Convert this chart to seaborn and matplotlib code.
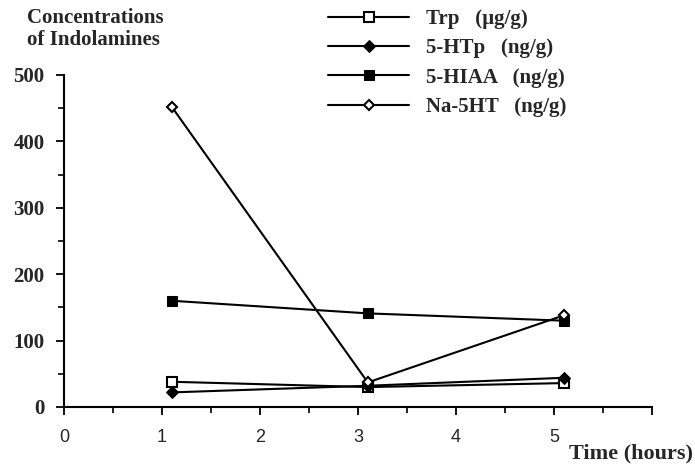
import numpy as np
import pandas as pd
import matplotlib
matplotlib.use("Agg")
import matplotlib.pyplot as plt
import seaborn as sns
from matplotlib.ticker import MultipleLocator

# ---- data ----
time_hours = [1.1, 3.1, 5.1]
trp = [38, 30, 36]
htp = [22, 32, 44]
hiaa = [160, 141, 130]
na5ht = [452, 37, 138]

series_labels = ["Trp   (\u00b5g/g)", "5-HTp   (ng/g)", "5-HIAA   (ng/g)", "Na-5HT   (ng/g)"]
x_ticks = [0, 1, 2, 3, 4, 5]
y_ticks = [0, 100, 200, 300, 400, 500]

sns.set_theme(style="white")
plt.rcParams["font.family"] = ["Liberation Serif", "DejaVu Serif"]

fig = plt.figure(figsize=(6.95, 4.68), dpi=100)
ax = fig.add_axes([64 / 695, 1 - 407 / 468, (652 - 64) / 695, (407 - 75) / 468])

styles = [
    dict(marker="s", markerfacecolor="white", markeredgecolor="black", markersize=6.5, markeredgewidth=1.5),
    dict(marker="D", markerfacecolor="black", markeredgecolor="black", markersize=6),
    dict(marker="s", markerfacecolor="black", markeredgecolor="black", markersize=6.5),
    dict(marker="D", markerfacecolor="white", markeredgecolor="black", markersize=5.5, markeredgewidth=1.5),
]
for vals, lab, st in zip([trp, htp, hiaa, na5ht], series_labels, styles):
    sns.lineplot(x=time_hours, y=vals, ax=ax, color="black", linewidth=1.5, label=lab, **st)

ax.set_xlim(0, 6)
ax.set_ylim(0, 500)
ax.set_yticks(y_ticks)
ax.set_xticks(x_ticks + [6])
ax.set_xticklabels([str(t) for t in x_ticks] + [""])
ax.xaxis.set_minor_locator(MultipleLocator(0.5))
ax.yaxis.set_minor_locator(MultipleLocator(50))
ax.tick_params(axis="both", which="major", direction="out", length=6, width=1.3, color="black",
               bottom=True, left=True)
ax.tick_params(axis="both", which="minor", direction="out", length=4, width=1.2, color="black",
               bottom=True, left=True)
ax.tick_params(axis="x", pad=10)
ax.tick_params(axis="y", pad=8)
for lbl in ax.get_yticklabels():
    lbl.set_fontfamily("Liberation Serif")
    lbl.set_fontweight("bold")
    lbl.set_fontsize(15)
for lbl in ax.get_xticklabels():
    lbl.set_fontfamily("Liberation Sans")
    lbl.set_fontsize(13)

for s in ["top", "right"]:
    ax.spines[s].set_visible(False)
for s in ["left", "bottom"]:
    ax.spines[s].set_color("black")
    ax.spines[s].set_linewidth(1.5)
ax.set_xlabel("")
ax.set_ylabel("")
ax.grid(False)

leg = ax.legend(loc="upper left", bbox_to_anchor=(328 / 695, 1 - 9 / 468), bbox_transform=fig.transFigure,
                frameon=False, handlelength=3.9, handletextpad=0.8, labelspacing=0.45,
                borderpad=0, borderaxespad=0,
                prop=dict(family="Liberation Serif", weight="bold", size=15))

fig.text(27 / 695, 1 - 8 / 468, "Concentrations\nof Indolamines", ha="left", va="top",
         fontfamily="Liberation Serif", fontweight="bold", fontsize=15, linespacing=1.15)
fig.text(693 / 695, 1 - 453 / 468, "Time (hours)", ha="right", va="center",
         fontfamily="Liberation Serif", fontweight="bold", fontsize=16)

fig.savefig("out.png", dpi=100)
